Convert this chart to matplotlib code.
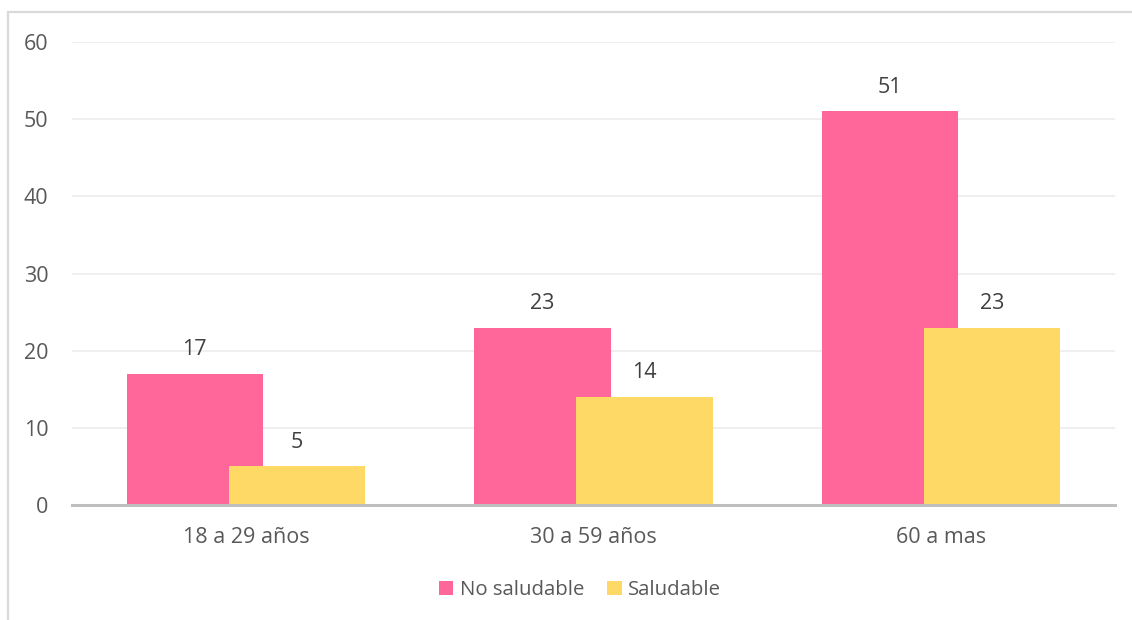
import matplotlib

matplotlib.use("Agg")
import matplotlib.pyplot as plt
import numpy as np
from matplotlib.patches import Rectangle

groups = ["18 a 29 años", "30 a 59 años", "60 a mas"]
no_saludable = [17, 23, 51]
saludable = [5, 14, 23]
series_names = ["No saludable", "Saludable"]

PINK = "#FF6699"
YELLOW = "#FFD966"
TEXT = "#595959"
LABEL = "#404040"
FS = 15.5

plt.rcParams["font.family"] = ["Open Sans", "DejaVu Sans"]

W, H = 1132, 620
fig = plt.figure(figsize=(W / 100, H / 100), dpi=100)
fig.patch.set_facecolor("white")

# outer chart frame, running off the right and bottom edges
fig.add_artist(Rectangle((8 / W, -0.05), 1.2, 1 - 12 / H + 0.05,
                         transform=fig.transFigure, fill=False,
                         edgecolor="#d9d9d9", linewidth=1.6))

ax = fig.add_axes([72 / W, 1 - 505 / H, (1115 - 72) / W, (505 - 42) / H])
x = np.arange(len(groups))
width = 0.392
off = 0.147

b1 = ax.bar(x - off, no_saludable, width, color=PINK, zorder=2)
b2 = ax.bar(x + off, saludable, width, color=YELLOW, zorder=3)

for bars, vals in ((b1, no_saludable), (b2, saludable)):
    for bar, v in zip(bars, vals):
        ax.annotate(str(v), (bar.get_x() + bar.get_width() / 2, v),
                    xytext=(0, 10), textcoords="offset points",
                    ha="center", va="bottom", fontsize=FS, color=LABEL)

ax.set_xlim(-0.5, 2.5)
ax.set_ylim(0, 60)
ax.set_yticks(range(0, 61, 10))
ax.set_xticks(x)
ax.set_xticklabels(groups)
ax.tick_params(axis="both", length=0, labelsize=FS, labelcolor=TEXT)
ax.tick_params(axis="y", pad=17)
ax.tick_params(axis="x", pad=16)
ax.grid(axis="y", color="#eeeeee", linewidth=1.3, zorder=0)
ax.set_axisbelow(True)
for side in ("top", "right", "left"):
    ax.spines[side].set_visible(False)
ax.spines["bottom"].set_color("#bfbfbf")
ax.spines["bottom"].set_linewidth(2.2)
ax.spines["bottom"].set_zorder(4)

leg = fig.legend([b1, b2], series_names, loc="center",
                 bbox_to_anchor=(580 / W, 1 - 590 / H), ncol=2,
                 frameon=False, fontsize=14.7, handlelength=0.72,
                 handleheight=0.72, handletextpad=0.3, columnspacing=1.15)
for t in leg.get_texts():
    t.set_color(TEXT)

fig.savefig("out.png", dpi=100, facecolor="white")
